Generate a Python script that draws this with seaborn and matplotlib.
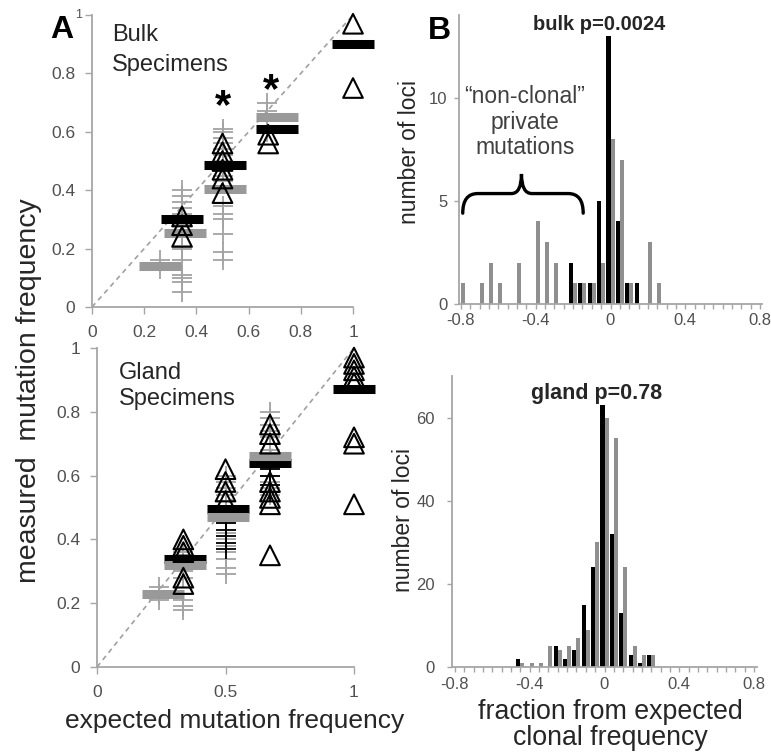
import numpy as np
import pandas as pd
import matplotlib
matplotlib.use("Agg")
import matplotlib.pyplot as plt
import seaborn as sns
from matplotlib.path import Path
from matplotlib.patches import PathPatch
from matplotlib.ticker import FixedLocator, FuncFormatter

sns.set_theme(style="ticks")
plt.rcParams['font.family'] = ['Liberation Sans', 'DejaVu Sans']

# ---------------- data : panel A, bulk specimens ----------------
bulk_plus_x = [0.26, 0.26,
               0.345, 0.345, 0.345, 0.345, 0.345, 0.345, 0.345, 0.345, 0.345, 0.345, 0.345, 0.345, 0.345, 0.345,
               0.50, 0.50, 0.50, 0.50, 0.50, 0.50, 0.50, 0.50, 0.50, 0.50, 0.50, 0.50, 0.50, 0.50, 0.50, 0.50,
               0.67, 0.67, 0.67, 0.67, 0.67]
bulk_plus_y = [0.13, 0.16,
               0.40, 0.38, 0.36, 0.34, 0.32, 0.30, 0.28, 0.21, 0.20, 0.16, 0.11, 0.10, 0.085, 0.05,
               0.61, 0.60, 0.58, 0.56, 0.54, 0.52, 0.50, 0.47, 0.45, 0.43, 0.345, 0.32, 0.30, 0.25, 0.19, 0.16,
               0.70, 0.67, 0.64, 0.62, 0.60]
bulk_tri_x = [0.345, 0.345, 0.345, 0.50, 0.50, 0.50, 0.50, 0.50, 0.50, 0.675, 0.675, 1.0, 1.0]
bulk_tri_y = [0.24, 0.28, 0.31, 0.39, 0.44, 0.47, 0.50, 0.53, 0.56, 0.56, 0.59, 0.97, 0.75]
bulk_black_x = [0.345, 0.51, 0.71, 1.0]
bulk_black_y = [0.30, 0.485, 0.61, 0.90]
bulk_gray_x = [0.26, 0.355, 0.51, 0.71]
bulk_gray_y = [0.14, 0.255, 0.405, 0.65]
bulk_star_x = [0.50, 0.686]
bulk_star_y = [0.73, 0.785]

# ---------------- data : panel A, gland specimens ----------------
gland_plus_x = [0.24, 0.24, 0.24,
                0.336, 0.336, 0.336, 0.336, 0.336, 0.336, 0.336,
                0.50, 0.50, 0.50, 0.50, 0.50, 0.50, 0.50, 0.50, 0.50, 0.50, 0.50, 0.50, 0.50, 0.50,
                0.673, 0.673, 0.673, 0.673, 0.673, 0.673, 0.673, 0.673, 0.673, 0.673, 0.673, 0.673]
gland_plus_y = [0.25, 0.23, 0.21,
                0.36, 0.33, 0.30, 0.28, 0.21, 0.19, 0.18,
                0.60, 0.58, 0.56, 0.54, 0.52, 0.50, 0.45, 0.42, 0.40, 0.38, 0.36, 0.34, 0.31, 0.29,
                0.80, 0.78, 0.76, 0.74, 0.72, 0.70, 0.68, 0.62, 0.60, 0.58, 0.56, 0.54]
gland_bplus_x = [0.50, 0.50, 0.50, 0.50, 0.50, 0.673, 0.673, 0.673, 0.673]
gland_bplus_y = [0.45, 0.43, 0.41, 0.39, 0.37, 0.62, 0.60, 0.57, 0.55]
gland_tri_x = [0.336, 0.336, 0.336, 0.336, 0.336,
               0.50, 0.50, 0.50, 0.50,
               0.673, 0.673, 0.673, 0.673, 0.673, 0.673, 0.673, 0.673,
               1.0, 1.0, 1.0, 1.0, 1.0, 1.0, 1.0, 1.0]
gland_tri_y = [0.40, 0.38, 0.36, 0.28, 0.26,
               0.62, 0.58, 0.55, 0.52,
               0.76, 0.73, 0.70, 0.58, 0.55, 0.53, 0.51, 0.35,
               0.97, 0.95, 0.93, 0.91, 0.89, 0.72, 0.70, 0.51]
gland_black_x = [0.343, 0.508, 0.673, 1.0]
gland_black_y = [0.34, 0.495, 0.64, 0.87]
gland_gray_x = [0.255, 0.343, 0.508, 0.673]
gland_gray_y = [0.23, 0.32, 0.47, 0.66]

# ---------------- data : panel B histograms ----------------
bulk_bins = [-0.8, -0.75, -0.7, -0.65, -0.6, -0.55, -0.5, -0.45, -0.4, -0.35, -0.3,
             -0.25, -0.2, -0.15, -0.1, -0.05, 0.0, 0.05, 0.1, 0.15, 0.2, 0.25]
bulk_black_n = [0, 0, 0, 0, 0, 0, 0, 0, 0, 0, 0, 0, 2, 1, 1, 5, 13, 4, 1, 1, 0, 0]
bulk_gray_n = [1, 0, 1, 2, 1, 0, 2, 0, 4, 3, 2, 0, 1, 1, 1, 2, 8, 7, 1, 0, 3, 1]
gland_bins = [-0.45, -0.4, -0.35, -0.3, -0.25, -0.2, -0.15, -0.1, -0.05, 0.0,
              0.05, 0.1, 0.15, 0.2, 0.25]
gland_black_n = [2, 0, 0, 0, 5, 2, 4, 15, 24, 63, 32, 13, 3, 1, 3]
gland_gray_n = [1, 1, 1, 5, 4, 5, 7, 9, 30, 60, 55, 24, 5, 3, 3]

# ---------------- styling ----------------
W, H = 771, 756
GRAY = '#999999'
SPINE = '#a6a6a6'
TXT = '#262626'
TICKTXT = '#505050'

fig = plt.figure(figsize=(W / 100, H / 100), dpi=100)


def px_axes(l, t, r, b):
    return fig.add_axes([l / W, 1 - b / H, (r - l) / W, (b - t) / H])


def style(ax, ticklen, xpad, ypad, labelsize):
    for s in ['top', 'right']:
        ax.spines[s].set_visible(False)
    for s in ['left', 'bottom']:
        ax.spines[s].set_color(SPINE)
        ax.spines[s].set_linewidth(1.3)
    ax.tick_params(axis='both', which='both', direction='out', length=ticklen, width=1.0,
                   color=SPINE, labelsize=labelsize, labelcolor=TICKTXT,
                   bottom=True, left=True)
    ax.tick_params(axis='x', which='both', pad=xpad)
    ax.tick_params(axis='y', which='both', pad=ypad)
    ax.set_facecolor('none')
    ax.set_xlabel('')
    ax.set_ylabel('')


def ftext(x, y, s, **kw):
    return fig.text(x / W, 1 - y / H, s, **kw)


fmt = FuncFormatter(lambda v, p: '%g' % round(v, 2))


def scatter_panel(ax, plus_x, plus_y, black_x, black_y, gray_x, gray_y, tri_x, tri_y,
                  bplus_x=None, bplus_y=None, gray_on_top=False):
    ax.set_xlim(0, 1)
    ax.set_ylim(0, 1)
    ax.axline((0, 0), slope=1, color='#a0a0a0', lw=1.2, ls=(0, (3, 2.5)), zorder=1)
    sns.scatterplot(x=plus_x, y=plus_y, marker='+', s=190, color='#a3a3a3',
                    linewidth=1.3, ax=ax, clip_on=False, zorder=2)
    if bplus_x is not None:
        sns.scatterplot(x=bplus_x, y=bplus_y, marker='+', s=190, color='black',
                        linewidth=1.3, ax=ax, clip_on=False, zorder=2.5)
    zb, zg = (3, 3.5) if gray_on_top else (3.5, 3)
    sns.scatterplot(x=black_x, y=black_y, marker='_', s=900, color='black',
                    linewidth=6.5, ax=ax, clip_on=False, zorder=zb)
    sns.scatterplot(x=gray_x, y=gray_y, marker='_', s=900, color=GRAY,
                    linewidth=6.5, ax=ax, clip_on=False, zorder=zg)
    sns.scatterplot(x=tri_x, y=tri_y, marker='^', s=200, facecolor='none', edgecolor='black',
                    linewidth=1.5, ax=ax, clip_on=False, zorder=4)
    style(ax, ticklen=5, xpad=8, ypad=7, labelsize=12.5)
    ax.yaxis.set_major_locator(FixedLocator([0, 0.2, 0.4, 0.6, 0.8, 1.0]))
    ax.yaxis.set_major_formatter(fmt)
    ax.xaxis.set_major_formatter(fmt)


# ---- panel A top (bulk)
axA1 = px_axes(92, 15, 353, 307)
scatter_panel(axA1, bulk_plus_x, bulk_plus_y, bulk_black_x, bulk_black_y,
              bulk_gray_x, bulk_gray_y, bulk_tri_x, bulk_tri_y)
axA1.xaxis.set_major_locator(FixedLocator([0, 0.2, 0.4, 0.6, 0.8, 1.0]))
# the top "1" label is printed small in the original (squeezed next to the panel letter)
axA1.yaxis.set_major_formatter(FuncFormatter(lambda v, p: '' if v >= 0.999 else '%g' % round(v, 2)))
axA1.annotate('1', (0, 1), xycoords='axes fraction', xytext=(-10, 0), textcoords='offset pixels',
              ha='right', va='center', fontsize=9, color=TICKTXT)
for sx, sy in zip(bulk_star_x, bulk_star_y):
    axA1.annotate('*', (sx, sy), xytext=(0, -24), textcoords='offset pixels',
                  ha='center', va='baseline', fontsize=30, fontweight='bold', color='black')

# ---- panel A bottom (gland)
axA2 = px_axes(97, 348, 354, 667)
scatter_panel(axA2, gland_plus_x, gland_plus_y, gland_black_x, gland_black_y,
              gland_gray_x, gland_gray_y, gland_tri_x, gland_tri_y,
              gland_bplus_x, gland_bplus_y, gray_on_top=True)
axA2.xaxis.set_major_locator(FixedLocator([0, 0.5, 1.0]))


# ---- panel B histograms
def hist_panel(ax, centers, black_n, gray_n, ymax, yticks, xlim, xpad, ypad):
    df = pd.DataFrame({
        'center': centers + centers,
        'count': black_n + gray_n,
        'series': ['black'] * len(centers) + ['gray'] * len(centers),
    })
    sns.histplot(data=df, x='center', weights='count', hue='series',
                 hue_order=['black', 'gray'], palette={'black': 'black', 'gray': '#8f8f8f'},
                 multiple='dodge', binwidth=0.05, binrange=(-0.825, 0.825),
                 shrink=0.86, linewidth=0, alpha=1, legend=False, ax=ax)
    ax.set_xlim(*xlim)
    ax.set_ylim(0, ymax)
    style(ax, ticklen=3.5, xpad=xpad, ypad=ypad, labelsize=12)
    ax.xaxis.set_major_locator(FixedLocator([-0.8, -0.4, 0, 0.4, 0.8]))
    ax.xaxis.set_minor_locator(FixedLocator(np.round(np.arange(-0.8, 0.801, 0.05), 3)))
    ax.xaxis.set_major_formatter(fmt)
    ax.yaxis.set_major_locator(FixedLocator(yticks))


axB1 = px_axes(459, 15, 762, 304)
hist_panel(axB1, bulk_bins, bulk_black_n, bulk_gray_n, 14, [0, 5, 10], (-0.81, 0.81),
           xpad=3, ypad=5)
axB2 = px_axes(452, 376, 757, 667)
hist_panel(axB2, gland_bins, gland_black_n, gland_gray_n, 70, [0, 20, 40, 60], (-0.815, 0.815),
           xpad=4, ypad=9)

# curly brace over the "non-clonal" private mutations
verts = [(-0.79, 4.4), (-0.79, 5.35), (-0.71, 5.35),
         (-0.53, 5.35),
         (-0.476, 5.35), (-0.476, 6.3),
         (-0.476, 5.35), (-0.42, 5.35),
         (-0.226, 5.35),
         (-0.146, 5.35), (-0.146, 4.4)]
codes = [Path.MOVETO, Path.CURVE3, Path.CURVE3, Path.LINETO,
         Path.CURVE3, Path.CURVE3, Path.CURVE3, Path.CURVE3,
         Path.LINETO, Path.CURVE3, Path.CURVE3]
axB1.add_patch(PathPatch(Path(verts, codes), fill=False, lw=2.4, color='black',
                         capstyle='round', clip_on=False))

# ---------------- texts ----------------
ftext(62, 30, 'A', ha='center', va='center', fontsize=23, fontweight='bold', color='black')
ftext(439, 31, 'B', ha='center', va='center', fontsize=23, fontweight='bold', color='black')
ftext(112, 24, 'Bulk\nSpecimens', ha='left', va='top', fontsize=17, color=TXT, linespacing=1.5)
ftext(119, 362, 'Gland\nSpecimens', ha='left', va='top', fontsize=17, color=TXT, linespacing=1.22)
ftext(599, 24, 'bulk p=0.0024', ha='center', va='center', fontsize=14.5, fontweight='bold', color=TXT)
ftext(597, 393, 'gland p=0.78', ha='center', va='center', fontsize=15.5, fontweight='bold', color=TXT)
ftext(525, 122, '\u201cnon-clonal\u201d\nprivate\nmutations', ha='center', va='center',
      fontsize=16.5, color='#404040', linespacing=1.12)
ftext(29, 391, 'measured  mutation frequency', ha='center', va='center', rotation=90,
      fontsize=20.5, color=TXT)
ftext(235, 721, 'expected mutation frequency', ha='center', va='center', fontsize=19, color=TXT)
ftext(409, 152, 'number of loci', ha='center', va='center', rotation=90, fontsize=16.5, color=TXT)
ftext(404, 520, 'number of loci', ha='center', va='center', rotation=90, fontsize=16.5, color=TXT)
ftext(610, 725, 'fraction from expected\nclonal frequency', ha='center', va='center',
      fontsize=19.3, color=TXT, linespacing=0.98)

fig.savefig('out.png', dpi=100)
